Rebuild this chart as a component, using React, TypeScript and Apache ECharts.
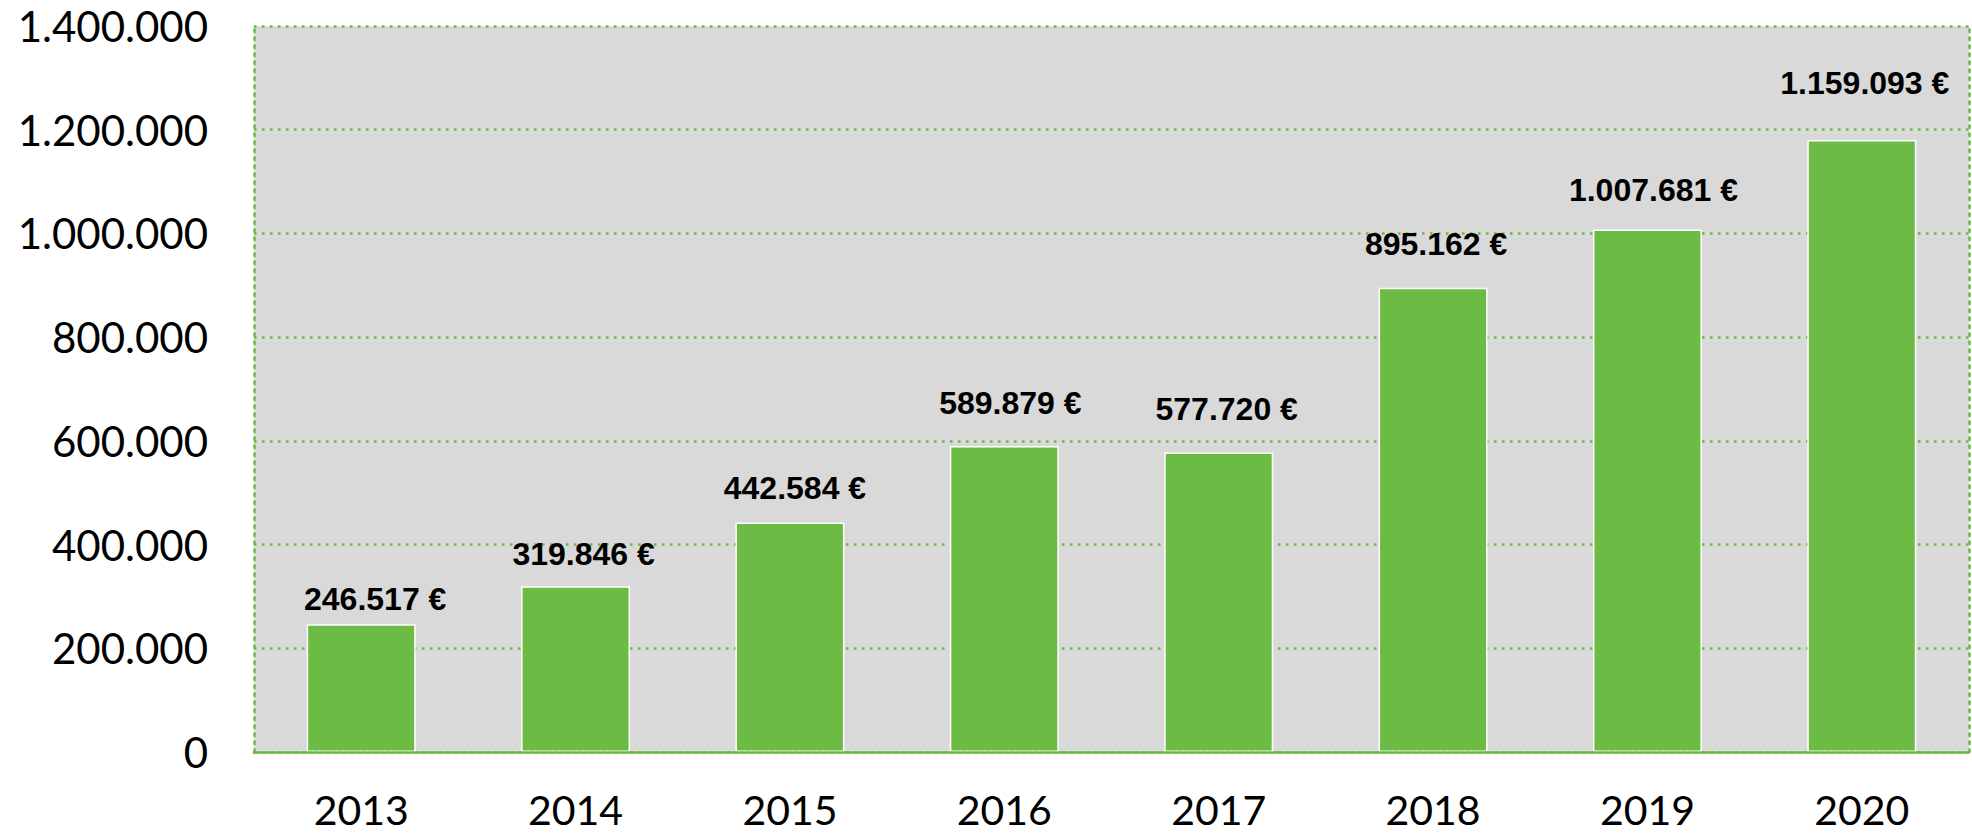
import React, { useEffect, useRef } from "react";
import * as echarts from "echarts";

const years = ["2013", "2014", "2015", "2016", "2017", "2018", "2019", "2020"];
const barValues = [246517, 319846, 442584, 589879, 577720, 895162, 1007681, 1180000];
const labelTexts = ["246.517 €", "319.846 €", "442.584 €", "589.879 €", "577.720 €", "895.162 €", "1.007.681 €", "1.159.093 €"];
const yTicks = [0, 200000, 400000, 600000, 800000, 1000000, 1200000, 1400000];
const labelDx = [14, 8, 5, 6, 8, 3, 6, 3];
const labelGap = [9, 16, 18, 27, 27, 28, 23, 41];

const GREEN = "#6bbb44";
const DOT = "#66bb3f";

function fmt(v: number): string {
  return String(Math.round(v)).replace(/\B(?=(\d{3})+(?!\d))/g, ".");
}

export default function App() {
  const ref = useRef<HTMLDivElement>(null);
  useEffect(() => {
    if (!ref.current) return;
    const chart = echarts.init(ref.current, null, { renderer: "svg" });
    chart.setOption({
      animation: false,
      grid: {
        left: 254,
        right: 3,
        top: 26,
        bottom: 81,
        show: true,
        backgroundColor: "#d9d9d9",
        borderWidth: 0,
      },
      xAxis: {
        type: "category",
        data: years,
        z: 5,
        axisLine: { show: true, lineStyle: { color: DOT, width: 2.7, type: [4, 2] } },
        axisTick: { show: false },
        axisLabel: {
          color: "#000",
          fontFamily: "Lato",
          fontSize: 41,
          lineHeight: 36,
          margin: 39,
        },
      },
      yAxis: [
        {
          type: "value",
          min: 0,
          max: 1400000,
          interval: 200000,
          axisLine: { show: true, lineStyle: { color: DOT, width: 2.5, type: [2.5, 5.5] } },
          axisTick: { show: false },
          splitLine: { show: true, lineStyle: { color: DOT, width: 2.5, type: [2.5, 5.5] } },
          axisLabel: {
            color: "#000",
            fontFamily: "Lato",
            fontSize: 42,
            margin: 46,
            formatter: (v: number) => (yTicks.indexOf(v) >= 0 ? fmt(v) : ""),
          },
        },
        {
          type: "value",
          position: "right",
          min: 0,
          max: 1400000,
          interval: 200000,
          axisLine: { show: true, lineStyle: { color: DOT, width: 2.5, type: [2.5, 5.5] } },
          axisTick: { show: false },
          splitLine: { show: false },
          axisLabel: { show: false },
        },
      ],
      series: [
        {
          type: "bar",
          yAxisIndex: 0,
          barWidth: 109,
          itemStyle: { color: GREEN, borderColor: "#ffffff", borderWidth: 1.5 },
          data: barValues.map((v, i) => ({
            value: v,
            label: {
              show: true,
              position: "top",
              distance: labelGap[i],
              offset: [labelDx[i], 0],
              formatter: () => labelTexts[i],
              color: "#000",
              fontFamily: "Liberation Sans",
              fontWeight: "bold",
              fontSize: 32,
              lineHeight: 32,
            },
          })),
        },
      ],
    });
    return () => chart.dispose();
  }, []);
  return (
    <div
      ref={ref}
      style={{ position: "fixed", left: 0, top: 0, width: 1972, height: 833, background: "#fff" }}
    />
  );
}
